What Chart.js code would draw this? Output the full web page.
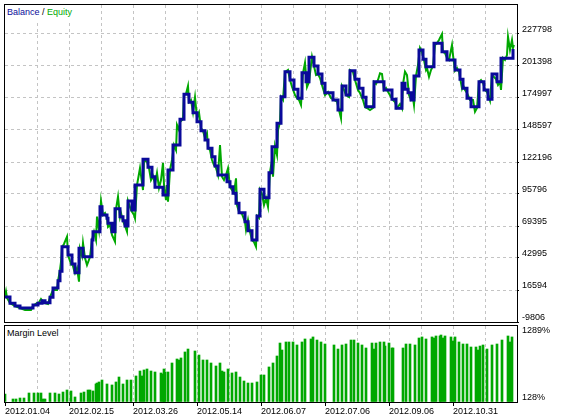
<!DOCTYPE html>
<html>
<head>
<meta charset="utf-8">
<script src="https://cdn.jsdelivr.net/npm/chart.js@4/dist/chart.umd.min.js"></script>
<style>
  html, body { margin: 0; padding: 0; background: #fff; }
  #wrap { position: relative; width: 562px; height: 419px; overflow: hidden; font-family: "Liberation Sans", Arial, sans-serif; font-size: 9px; }
  canvas { position: absolute; left: 0; }
  #top { top: 0; }
  #bottom { top: 325px; }
  .cap { position: absolute; left: 5px; padding: 2px 3px 3px 2px; line-height: 11px; background: #fff; white-space: nowrap; color: #000; }
</style>
</head>
<body>
<div id="wrap">
  <canvas id="top" width="562" height="326"></canvas>
  <canvas id="bottom" width="562" height="94"></canvas>
  <div class="cap" style="top:5px"><span style="color:#0a0a9a">Balance</span> / <span style="color:#00a800">Equity</span></div>
  <div class="cap" style="top:326px">Margin Level</div>
</div>
<script>
// x axis = deal number, 0..256
const xLabels = ['2012.01.04', '2012.02.15', '2012.03.26', '2012.05.14', '2012.06.07', '2012.07.06', '2012.09.06', '2012.10.31'];
const balanceTicks = [-9806, 16594, 42995, 69395, 95796, 122196, 148597, 174997, 201398, 227798];
const marginTicks = [128, 1289];

// [deal, balance]
const balance = [
  [0,10800],[2.5,5600],[5,3400],[7.5,1750],[14,4200],[16.5,5600],[18.5,7800],[20,6100],[22.5,10600],[24,18250],
  [26.5,24300],[27.5,32000],[28.5,52300],[31.5,45500],[33.5,38050],[35,30900],[37,51000],[39,44100],[43.5,57850],[44,64700],
  [47.5,85300],[48.5,78500],[51,75750],[51.5,71600],[53.5,64700],[55,83700],[57.5,77100],[59,73800],[60,69400],[61.5,90000],
  [63.5,82600],[65,103200],[69,124400],[71.5,117800],[73.5,110100],[75,101300],[79,95000],[81.5,115600],[84,136200],[87.5,157400],
  [89.5,178100],[92,171450],[94,162900],[96,155450],[98,148000],[100,140350],[101.5,133500],[103.5,126600],[105,118900],[106.5,111500],
  [111,105950],[112.5,101800],[114,96400],[115.5,88100],[117,80400],[120,72950],[121.5,65500],[123.5,57850],[126,77650],[127.5,99700],
  [129.5,92750],[132,113400],[133.5,134800],[136,154200],[138,176100],[140,196700],[142.5,189850],[144.5,182200],[146.5,174750],[148.5,195900],
  [150.5,188450],[152,208600],[154.5,201400],[156.5,194800],[158.5,187100],[160,179400],[164,173350],[166.5,165100],[168.5,184900],[170.5,177500],
  [172.5,197500],[175,190450],[177,183000],[179,175600],[180.5,167850],[184.5,188450],[189.5,181600],[193.5,173900],[195.5,166500],[198.5,187100],
  [200,182200],[201.5,179400],[203,173350],[204.5,193150],[207,214600],[209,206900],[210.5,200850],[214.5,220100],[218.5,213200],[221,206350],
  [225,198100],[227.5,190450],[229,183000],[231,174750],[233,167850],[237,188450],[239.5,181600],[241.5,173900],[243.5,194800],[246,188450],
  [248,207750],[254,215400]
];

// [deal, equity]
const equity = [
  [0,10800],[0.5,15200],[1,10000],[2.5,5900],[5,3400],[7.5,1750],[10,100],[13,100],[14,3400],[16,5900],
  [16.5,5050],[18,9200],[19.5,5900],[21.5,5050],[22.5,10800],[24,16600],[26,16600],[26.5,24000],[27.5,33100],[28,39700],
  [28.5,52100],[29.5,54550],[31,60600],[31.5,45500],[33,38050],[33.5,39700],[34.5,33100],[35,30600],[36,34750],[37,23450],
  [37.5,50400],[38.5,44650],[39,55400],[40,43000],[41,37200],[42.5,43800],[43.5,57850],[44.5,64450],[45.5,57850],[46,77100],
  [47,66100],[48,90000],[49,78500],[50,80100],[51,76000],[51.5,68600],[52.5,70200],[53.5,62000],[55,56450],[55.5,83400],
  [56.5,93600],[57.5,76800],[58,80100],[59,73500],[60,69400],[61,64700],[61.5,90000],[63,82600],[64.5,78500],[65,75750],
  [66,103200],[67.5,117250],[69,99100],[69.5,123850],[71,122200],[72,117250],[73,107350],[74,110650],[75,104050],[76,113100],
  [77,100750],[78,107350],[79,121400],[79.5,103200],[80.5,90850],[81,103200],[81.5,89450],[82.5,115600],[83.5,123850],[84.5,136200],
  [85.5,132100],[86,152700],[87,148600],[87.5,155200],[89,157650],[89.5,178300],[90.5,178300],[91.5,184900],[92,171700],[93,173350],
  [94,163450],[95,175600],[96,158500],[97,162900],[98,150250],[99,147750],[100,142000],[101,145900],[101.5,133750],[102.5,132100],
  [103.5,123850],[104.5,119700],[105.5,117250],[106.5,111450],[107.5,136200],[108.5,110050],[109.5,107350],[110.5,111450],[111.5,117000],[112.5,101550],
  [113.5,99100],[114.5,96600],[115.5,108750],[116,86700],[117,80950],[118.5,79300],[120,72700],[120.5,66100],[121.5,74350],[122.5,64450],
  [123.5,57850],[124.5,56200],[125.5,52300],[126,77650],[127,76000],[127.5,99100],[128.5,95800],[129.5,86700],[130.5,92500],[131.5,85300],
  [132.5,113950],[133.5,123850],[134,110050],[135,135400],[136,127950],[136.5,148600],[137.5,155200],[138,175800],[139,173350],[140,196450],
  [141.5,198100],[142.5,189850],[143.5,184300],[145,177450],[146,175000],[147,173350],[148,169200],[149,195600],[150,204100],[151,184050],
  [152,188200],[153.5,209050],[154.5,201400],[155.5,193950],[156.5,194800],[157.5,191500],[158.5,185700],[160,177450],[161.5,179950],[163,175000],
  [164.5,173350],[166,171950],[167,165100],[168,158250],[168.5,184900],[169.5,181600],[170.5,177450],[172,175800],[172.5,198100],[174,196450],
  [175,189850],[176.5,181600],[177.5,179100],[179,173350],[180,167550],[181,166750],[182.5,165100],[184,166750],[184.5,188200],[185.5,186550],
  [186.5,189850],[187.5,195400],[188.5,194800],[189.5,181600],[190.5,183250],[191.5,180200],[193,175800],[194,173350],[195,171700],[196,166750],
  [197.5,170050],[198.5,166500],[199,186550],[200,196700],[201,193950],[202,177450],[203,173350],[204,175000],[204.5,169200],[205.5,193150],
  [206.5,202200],[207.5,216250],[208.5,212950],[209.5,206350],[210.5,198100],[211,199750],[212,192550],[213,198100],[214,201400],[215,218700],
  [216,220350],[217,222850],[218.5,227800],[219,212950],[220,212100],[221,208000],[222,206350],[223.5,218700],[224,210450],[225,197500],
  [226,199750],[227,196450],[228.5,183000],[229,185700],[230,181600],[231,179100],[232.5,173350],[234,173350],[235,163700],[236,166750],
  [237,188200],[238,189850],[239,187400],[240,181600],[241,179950],[242.5,172750],[243.5,193950],[244.5,192300],[245.5,190650],[246.5,185700],
  [247.5,188200],[248,181600],[249,208000],[250,206350],[251,210450],[251.5,225550],[252.5,214600],[253.5,222850],[254,216250],[254.5,218700]
];

// [deal, margin level %]
const margin = [
  [0,267],[4,180],[5.5,180],[7.5,197],[9.5,197],[12,284],[14.5,284],[16.5,284],[18,284],[19,180],
  [20,180],[22.5,284],[25,284],[27,267],[29,301],[31,336],[33,319],[35,215],[38,284],[39.5,301],
  [41.5,336],[42.5,336],[44,319],[45.5,440],[46,457],[47,475],[48.5,509],[51,440],[53.5,423],[55.5,475],
  [57,561],[59,440],[61,509],[63,509],[65.5,579],[67.5,665],[68.5,579],[69.5,683],[71,700],[73,665],
  [75,648],[78,631],[79,613],[79.5,700],[80,648],[81.5,648],[83.5,804],[86,873],[87,856],[88,891],
  [90,995],[91.5,1046],[95,1012],[97,942],[99,856],[101,856],[103,804],[105.5,752],[107.5,804],[108.5,665],
  [109.5,648],[111.5,700],[113.5,631],[115.5,648],[117.5,561],[119.5,492],[121.5,457],[123.5,457],[126,475],[128,596],
  [129.5,596],[132,735],[134,804],[136,925],[137.5,1150],[138.5,1029],[140.5,1168],[142,1168],[144,1168],[146,1116],
  [148.5,1168],[150,1220],[153,1220],[154,1255],[156,1202],[158,1168],[160,1133],[164.5,1116],[166.5,1046],[168.5,1116],
  [170.5,1133],[173,1202],[174.5,1202],[176.5,1150],[178.5,1116],[180.5,1064],[183.5,1150],[184.5,1046],[185.5,1150],[187.5,1168],
  [189.5,1168],[190,1098],[192,1150],[193.5,1064],[194,1064],[199,1064],[200.5,1133],[202.5,1133],[205,1116],[207,1237],
  [208.5,1255],[210.5,1220],[213.5,1255],[214.5,1237],[215.5,1272],[217.5,1272],[218,1289],[219,1237],[220,1272],[223,1255],
  [224,1185],[225,1255],[227,1168],[229,1133],[231,1133],[233,1081],[235.5,1081],[236.5,1029],[237.5,1098],[239,1116],
  [241,1046],[243.5,1116],[246,1133],[248.5,1202],[251.5,1272],[252.5,1168],[253.5,1255]
];

const blue = '#0a0a9a';
const green = '#00a800';
const gridGrey = '#c4c4c4';
const lastDeal = 256;
const font = { family: 'Liberation Sans', size: 9 };

Chart.defaults.font.family = 'Liberation Sans';
Chart.defaults.font.size = 9;
Chart.defaults.color = '#000';

// black box round the plot area, like the terminal draws it
const frame = {
  id: 'frame',
  afterDraw(chart) {
    const a = chart.chartArea, g = chart.ctx;
    g.save();
    g.strokeStyle = '#000';
    g.lineWidth = 1;
    g.strokeRect(a.left - 0.5, a.top - 0.5, a.width + 1, a.height + 1);
    g.restore();
  }
};

const edgeless = ctx => (ctx.tick && (ctx.tick.value === 0 || ctx.tick.value === lastDeal)) ? 'transparent' : gridGrey;
const noPad = s => { s.paddingTop = 0; s.paddingBottom = 0; s.paddingLeft = 0; s.paddingRight = 0; };

new Chart(document.getElementById('top'), {
  type: 'line',
  data: {
    datasets: [
      {
        label: 'Equity',
        data: equity.map(([x, y]) => ({ x, y })),
        borderColor: green,
        borderWidth: 2,
        pointRadius: 0,
        tension: 0,
        order: 2
      },
      {
        label: 'Balance',
        data: balance.map(([x, y]) => ({ x, y })),
        borderColor: blue,
        borderWidth: 3,
        pointRadius: 0,
        stepped: 'before',
        order: 1
      }
    ]
  },
  options: {
    responsive: false,
    animation: false,
    events: [],
    layout: { padding: { left: 5, top: 5, right: 0, bottom: 4 } },
    plugins: { legend: { display: false }, tooltip: { enabled: false } },
    scales: {
      x: {
        type: 'linear',
        min: 0,
        max: lastDeal,
        ticks: { stepSize: 16, display: false },
        grid: { color: edgeless, drawTicks: false },
        border: { display: false, dash: [3, 3] },
        afterFit: s => { s.height = 0; noPad(s); }
      },
      y: {
        type: 'linear',
        position: 'right',
        min: -9806,
        max: 251723,
        afterBuildTicks: s => { s.ticks = balanceTicks.map(v => ({ value: v })); },
        afterFit: s => { s.width = 45; noPad(s); },
        ticks: { font, color: '#000', padding: 3, labelOffset: -4, callback: v => String(v) },
        grid: {
          color: ctx => (ctx.tick && ctx.tick.value === balanceTicks[0]) ? 'transparent' : gridGrey,
          tickColor: '#000',
          tickLength: 2
        },
        border: { display: false, dash: [3, 3] }
      }
    }
  },
  plugins: [frame]
});

new Chart(document.getElementById('bottom'), {
  type: 'bar',
  data: {
    datasets: [{
      label: 'Margin Level',
      data: margin.map(([x, y]) => ({ x, y })),
      backgroundColor: green,
      borderWidth: 0,
      barThickness: 2,
      grouped: false,
      base: marginTicks[0]
    }]
  },
  options: {
    responsive: false,
    animation: false,
    events: [],
    layout: { padding: { left: 5, top: 1, right: 0, bottom: 0 } },
    plugins: { legend: { display: false }, tooltip: { enabled: false } },
    scales: {
      x: {
        type: 'linear',
        offset: false,
        min: 0,
        max: lastDeal,
        ticks: {
          stepSize: 16,
          autoSkip: false,
          maxRotation: 0,
          minRotation: 0,
          align: 'start',
          padding: 0,
          font,
          color: '#000',
          callback: v => (v % 32 === 0 && v < lastDeal) ? xLabels[v / 32] : ''
        },
        grid: {
          offset: false,
          color: edgeless,
          tickColor: ctx => (ctx.tick && ctx.tick.value % 32 === 0 && ctx.tick.value < lastDeal) ? '#000' : 'transparent',
          tickLength: 4
        },
        border: { display: false, dash: [3, 3] },
        afterFit: s => { s.height = 17; noPad(s); }
      },
      y: {
        type: 'linear',
        position: 'right',
        min: marginTicks[0],
        max: 1445,
        afterBuildTicks: s => { s.ticks = marginTicks.map(v => ({ value: v })); },
        afterFit: s => { s.width = 45; noPad(s); },
        ticks: { font, color: '#000', padding: 3, labelOffset: -4, callback: v => v + '%' },
        grid: { drawOnChartArea: false, tickColor: 'transparent', tickLength: 2 },
        border: { display: false }
      }
    }
  },
  plugins: [frame]
});
</script>
</body>
</html>
